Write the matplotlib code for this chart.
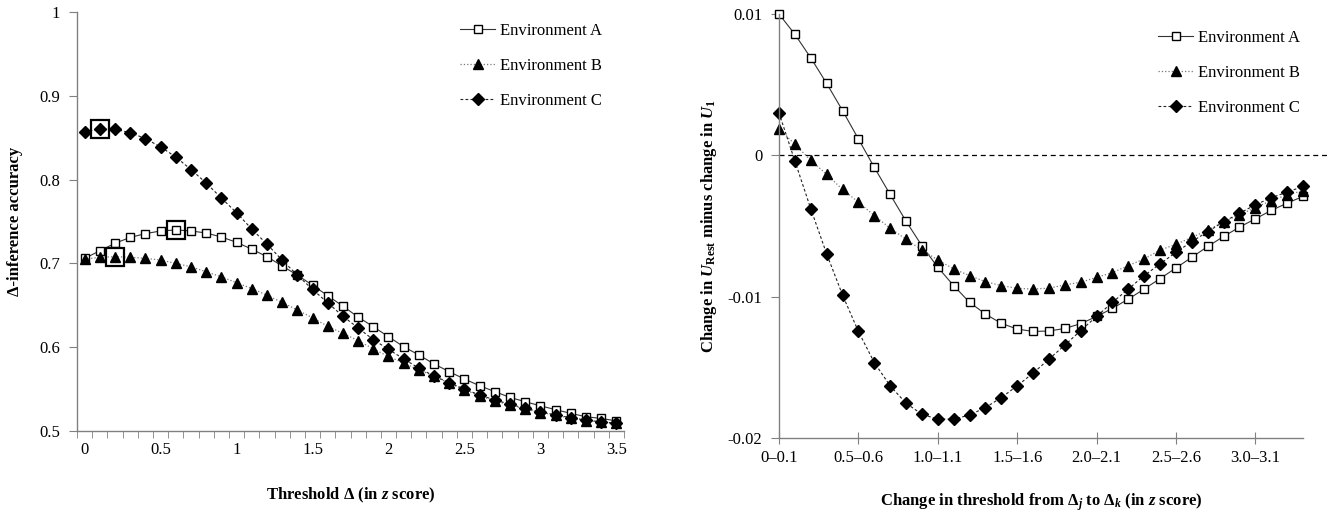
import numpy as np
import matplotlib
matplotlib.use('Agg')
import matplotlib.pyplot as plt

plt.rcParams['font.family'] = ['Liberation Serif', 'DejaVu Serif']
plt.rcParams['font.size'] = 12
plt.rcParams['mathtext.fontset'] = 'custom'
plt.rcParams['mathtext.rm'] = 'Liberation Serif:bold'
plt.rcParams['mathtext.it'] = 'Liberation Serif:bold:italic'
plt.rcParams['mathtext.bf'] = 'Liberation Serif:bold'

## left panel: accuracy vs threshold (0, 0.1, ..., 3.5)
thr_labels = ['0', '0.5', '1', '1.5', '2', '2.5', '3', '3.5']

acc_A = [0.706, 0.715, 0.724, 0.731, 0.7355, 0.7387, 0.7399, 0.7387, 0.7363, 0.7315,
         0.7252, 0.717, 0.708, 0.697, 0.686, 0.674, 0.6615, 0.649, 0.636, 0.6245,
         0.6125, 0.6006, 0.5907, 0.580, 0.5708, 0.562, 0.554, 0.547, 0.540, 0.535,
         0.530, 0.5255, 0.521, 0.517, 0.515, 0.512]
acc_B = [0.705, 0.7073, 0.708, 0.7073, 0.706, 0.704, 0.700, 0.696, 0.690, 0.684,
         0.677, 0.670, 0.662, 0.6535, 0.6444, 0.635, 0.625, 0.6166, 0.6078, 0.598,
         0.589, 0.581, 0.573, 0.5656, 0.557, 0.549, 0.542, 0.536, 0.531, 0.526,
         0.522, 0.519, 0.515, 0.5125, 0.5105, 0.509]
acc_C = [0.857, 0.860, 0.860, 0.856, 0.849, 0.839, 0.827, 0.812, 0.796, 0.778,
         0.7605, 0.741, 0.723, 0.704, 0.686, 0.669, 0.653, 0.637, 0.623, 0.609,
         0.5975, 0.586, 0.575, 0.5656, 0.5577, 0.550, 0.543, 0.537, 0.532, 0.527,
         0.523, 0.519, 0.516, 0.513, 0.511, 0.509]

# best point of each environment (index into the threshold list)
best_A, best_B, best_C = 6, 2, 1

## right panel: change between successive thresholds (0-0.1 ... 3.3-3.4)
chg_labels = ['0\u20130.1', '0.5\u20130.6', '1.0\u20131.1', '1.5\u20131.6',
              '2.0\u20132.1', '2.5\u20132.6', '3.0\u20133.1']

chg_A = [0.0100, 0.00856, 0.0069, 0.00509, 0.00317, 0.00116, -0.00085, -0.00277, -0.00466, -0.0064,
         -0.00792, -0.00922, -0.0104, -0.01123, -0.01189, -0.01229, -0.01246, -0.01243, -0.01225, -0.01191,
         -0.0114, -0.01083, -0.01017, -0.00946, -0.00872, -0.00797, -0.00721, -0.00645, -0.00574, -0.00508,
         -0.00449, -0.0039, -0.00338, -0.00291]
chg_B = [0.00189, 0.00078, -0.00035, -0.00135, -0.00241, -0.00331, -0.00426, -0.00516, -0.00594, -0.0067,
         -0.0074, -0.00804, -0.00851, -0.00894, -0.00922, -0.00941, -0.00946, -0.0094, -0.00917, -0.00898,
         -0.00863, -0.0083, -0.0078, -0.00733, -0.0067, -0.0063, -0.0058, -0.0053, -0.0047, -0.0042,
         -0.0037, -0.0032, -0.0028, -0.0025]
chg_C = [0.0030, -0.0004, -0.00378, -0.00697, -0.00988, -0.01246, -0.01466, -0.01631, -0.01754, -0.01832,
         -0.01867, -0.01867, -0.01837, -0.01785, -0.01714, -0.01631, -0.01541, -0.01442, -0.01343, -0.0124,
         -0.0114, -0.0104, -0.00946, -0.00851, -0.00768, -0.00686, -0.0061, -0.0054, -0.0047, -0.0041,
         -0.0035, -0.0030, -0.0026, -0.0022]

names = ['Environment A', 'Environment B', 'Environment C']

# styles
sty_A = dict(color='#333333', ls='-', lw=0.8, marker='s', ms=6, mfc='white', mec='black', mew=1.0)
sty_B = dict(color='#777777', ls=':', lw=0.9, marker='^', ms=7, mfc='black', mec='black')
sty_C = dict(color='#222222', ls=(0, (2.5, 2)), lw=0.8, marker='D', ms=6, mfc='black', mec='black')

W, H = 1334, 514
fig = plt.figure(figsize=(W / 100, H / 100), dpi=100)

def px_axes(x0, x1, ytop, ybot):
    return fig.add_axes([x0 / W, 1 - ybot / H, (x1 - x0) / W, (ybot - ytop) / H])

def style_axes(ax):
    for s in ['top', 'right']:
        ax.spines[s].set_visible(False)
    for s in ['left', 'bottom']:
        ax.spines[s].set_color('#808080')
        ax.spines[s].set_linewidth(1.0)
    ax.tick_params(colors='#808080', labelcolor='black', labelsize=12)

#%% left panel
ax1 = px_axes(77, 624, 12, 431)
style_axes(ax1)
xl = np.arange(len(acc_A))
ax1.plot(xl, acc_A, label=names[0], **sty_A)
ax1.plot(xl, acc_B, label=names[1], **sty_B)
ax1.plot(xl, acc_C, label=names[2], **sty_C)

# highlight boxes
for i, arr in [(best_A, acc_A), (best_B, acc_B), (best_C, acc_C)]:
    ax1.plot(xl[i], arr[i], marker='s', ms=13, mfc='none', mec='black', mew=1.6, ls='none')

ax1.set_xlim(-0.5, len(acc_A) - 0.5)
ax1.set_ylim(0.5, 1.0)
ax1.set_yticks([0.5, 0.6, 0.7, 0.8, 0.9, 1.0])
ax1.set_yticklabels(['0.5', '0.6', '0.7', '0.8', '0.9', '1'])
ax1.set_xticks(np.arange(0, len(acc_A), 5))
ax1.set_xticklabels(thr_labels)
ax1.set_xticks(np.arange(-0.5, len(acc_A), 1), minor=True)
ax1.tick_params(axis='x', which='major', length=0, pad=8)
ax1.tick_params(axis='x', which='minor', length=5, direction='out', color='#808080')
ax1.tick_params(axis='y', length=6, direction='out', pad=6)
ax1.set_xlabel('Threshold \u0394 (in $z$ score)', fontweight='bold', labelpad=20)
ax1.set_ylabel('\u0394-inference accuracy', fontweight='bold', labelpad=12)

leg1 = ax1.legend(loc='upper left', bbox_to_anchor=(460 / W, 1 - 23 / H),
                  bbox_transform=fig.transFigure, frameon=False, borderpad=0,
                  borderaxespad=0, handlelength=2.1, handletextpad=0.3, labelspacing=1.15,
                  fontsize=12)

#%% right panel
ax2 = px_axes(779, 1303, 14, 438)
style_axes(ax2)
xr = np.arange(len(chg_A))
ax2.plot([0, 34.7], [0, 0], color='black', ls=(0, (4, 3)), lw=0.9, clip_on=False)
ax2.plot(xr, chg_A, label=names[0], clip_on=False, **sty_A)
ax2.plot(xr, chg_B, label=names[1], clip_on=False, **sty_B)
ax2.plot(xr, chg_C, label=names[2], clip_on=False, **sty_C)

ax2.set_xlim(0, len(chg_A) - 1)
ax2.set_ylim(-0.02, 0.01)
ax2.set_yticks([-0.02, -0.01, 0, 0.01])
ax2.set_yticklabels(['-0.02', '-0.01', '0', '0.01'])
ax2.set_xticks(np.arange(0, len(chg_A), 5))
ax2.set_xticklabels(chg_labels)
ax2.tick_params(axis='x', length=8, direction='inout', pad=5)
ax2.tick_params(axis='y', length=6, direction='out', pad=6)
ax2.set_xlabel('Change in threshold from $\\Delta_{j}$ to $\\Delta_{k}$ (in $z$ score)',
               fontweight='bold', labelpad=18)
ax2.set_ylabel('Change in $U_{\\mathbf{Rest}}$ minus change in $U_{\\mathbf{1}}$',
               fontweight='bold', labelpad=6)

leg2 = ax2.legend(loc='upper left', bbox_to_anchor=(1158 / W, 1 - 30 / H),
                  bbox_transform=fig.transFigure, frameon=False, borderpad=0,
                  borderaxespad=0, handlelength=2.1, handletextpad=0.3, labelspacing=1.15,
                  fontsize=12)

fig.savefig('out.png', dpi=100)
